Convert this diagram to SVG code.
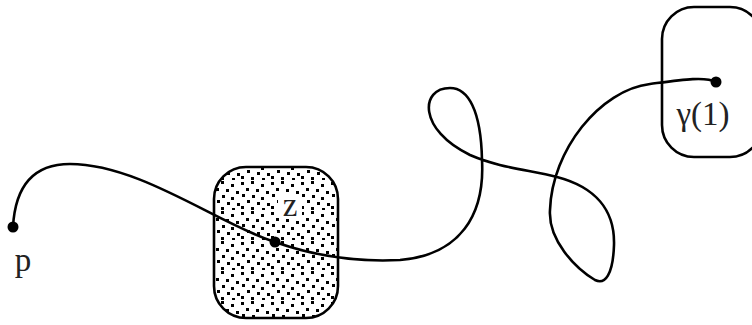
<svg xmlns="http://www.w3.org/2000/svg" width="752" height="325" viewBox="0 0 752 325">
<style>
.box{stroke:#000;stroke-width:2.6;}
.curve{fill:none;stroke:#000;stroke-width:2.6;}
.lbl{font-family:"Liberation Serif","DejaVu Serif",serif;font-size:33px;fill:#222;}
</style>
<defs>
<pattern id="dots" width="30" height="30" patternUnits="userSpaceOnUse">
<rect width="30" height="30" fill="#fff"/>
<g fill="#000">
<rect x="1" y="2" width="3" height="3"/><rect x="11" y="1" width="3" height="3"/><rect x="21" y="4" width="3" height="3"/>
<rect x="6" y="8" width="3" height="3"/><rect x="16" y="9" width="3" height="3"/><rect x="26" y="11" width="3" height="3"/>
<rect x="2" y="14" width="3" height="3"/><rect x="12" y="15" width="3" height="3"/><rect x="21" y="17" width="3" height="3"/>
<rect x="7" y="20" width="3" height="3"/><rect x="17" y="22" width="3" height="3"/><rect x="27" y="23" width="3" height="3"/>
<rect x="1" y="26" width="3" height="3"/><rect x="11" y="27" width="3" height="3"/><rect x="22" y="28" width="3" height="2"/>
</g>
</pattern>
</defs>
<g id="zbox"><rect class="box" x="214" y="167" width="124" height="151" rx="32" fill="url(#dots)"/>
<rect x="278" y="195" width="24" height="23" fill="#fff"/>
<text class="lbl" x="290" y="216" text-anchor="middle">z</text></g>
<g id="gbox"><rect class="box" x="662" y="7" width="100" height="150" rx="32" fill="#fff"/>
<text class="lbl" x="703" y="125" text-anchor="middle">γ(1)</text></g>
<g id="connectors">
<path class="curve" d="M13,227 C15,190 30,164 70,164 C140,164 220,225 275,242 C320,258 360,262 400,260 C460,255 485,215 482,160 C481,110 468,88 450,88 C420,88 418,130 470,155 C500,168 530,170 557,177 C595,187 615,210 614,245 C613,275 605,285 595,280 C575,268 548,240 550,210 C552,150 600,90 650,84 C680,80 705,76 716,82"/>
</g>
<g id="p"><circle cx="13" cy="227" r="5.5"/><text class="lbl" x="23" y="271" text-anchor="middle">p</text></g>
<g id="z"><circle cx="275" cy="242" r="5.5"/></g>
<g id="g1"><circle cx="716" cy="82" r="5.5"/></g>
</svg>
